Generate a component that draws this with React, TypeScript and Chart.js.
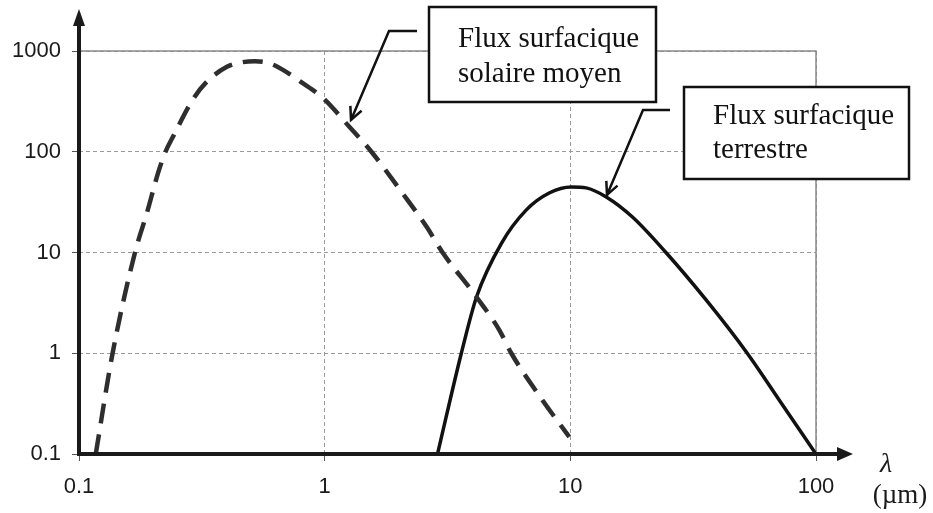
import React, { useEffect, useRef } from 'react';
import { Chart, registerables } from 'chart.js';

Chart.register(...registerables);

// wavelength (µm) and surface flux
const SOLAR_X = [0.117, 0.137, 0.169, 0.189, 0.21, 0.225, 0.241, 0.29, 0.331, 0.4, 0.45, 0.52, 0.6, 0.7, 0.8, 0.98, 1.26, 1.55, 2.07, 2.6, 3.02, 4.15, 5.14, 5.75, 7.69, 9.9];
const SOLAR_Y = [0.1, 1, 10, 24.7, 62, 100, 140, 327, 494, 696, 765, 790, 750, 617, 494, 345, 177, 100, 39, 18, 10, 3.62, 1.7, 1.0, 0.344, 0.148];

const EARTH_X = [2.88, 3.6, 4.15, 5.25, 6.62, 8.2, 10.1, 11.6, 14, 17.9, 24.5, 35.7, 52.5, 70.8, 100];
const EARTH_Y = [0.1, 1, 3.62, 12.4, 26.5, 39, 44.8, 43.8, 35.6, 22.5, 10, 3.38, 1.0, 0.344, 0.1];

const X_TICKS = [0.1, 1, 10, 100];
const Y_TICKS = [0.1, 1, 10, 100, 1000];

const SOLAR_LABEL = ['Flux surfacique', 'solaire moyen'];
const EARTH_LABEL = ['Flux surfacique', 'terrestre'];
const AXIS_SYMBOL = 'λ';
const AXIS_UNIT = '(µm)';

// where the callout arrows point, in data units
const SOLAR_TIP = { x: 1.28, y: 207 };
const EARTH_TIP = { x: 14.1, y: 37.3 };

const SERIF = '"Liberation Serif", "Times New Roman", serif';
const SANS = '"Liberation Sans", Arial, sans-serif';

const toPoints = (xs: number[], ys: number[]) => xs.map((x, i) => ({ x, y: ys[i] }));

function arrowHead(ctx: CanvasRenderingContext2D, fromX: number, fromY: number, toX: number, toY: number) {
  const a = Math.atan2(toY - fromY, toX - fromX);
  const len = 14;
  ctx.beginPath();
  ctx.moveTo(toX - len * Math.cos(a - 0.45), toY - len * Math.sin(a - 0.45));
  ctx.lineTo(toX, toY);
  ctx.lineTo(toX - len * Math.cos(a + 0.45), toY - len * Math.sin(a + 0.45));
  ctx.stroke();
}

function callout(
  ctx: CanvasRenderingContext2D,
  box: { l: number; t: number; r: number; b: number; tx: number; base: number; gap: number },
  lines: string[],
  lead: { x0: number; x1: number; y: number },
  tip: { x: number; y: number }
) {
  ctx.save();
  ctx.fillStyle = '#fff';
  ctx.fillRect(box.l, box.t, box.r - box.l, box.b - box.t);
  ctx.strokeStyle = '#111';
  ctx.lineWidth = 2.5;
  ctx.strokeRect(box.l, box.t, box.r - box.l, box.b - box.t);
  ctx.fillStyle = '#111';
  ctx.font = `29px ${SERIF}`;
  ctx.textAlign = 'left';
  ctx.textBaseline = 'alphabetic';
  lines.forEach((s, i) => ctx.fillText(s, box.tx, box.base + i * box.gap));

  ctx.lineWidth = 2.5;
  ctx.beginPath();
  ctx.moveTo(lead.x0, lead.y);
  ctx.lineTo(lead.x1, lead.y);
  ctx.lineTo(tip.x, tip.y);
  ctx.stroke();
  arrowHead(ctx, lead.x1, lead.y, tip.x, tip.y);
  ctx.restore();
}

const decor = {
  id: 'decor',
  beforeDatasetsDraw(chart: any) {
    const { ctx, chartArea: a } = chart;
    ctx.save();
    ctx.strokeStyle = '#8a8a8a';
    ctx.lineWidth = 1.5;
    ctx.beginPath();
    ctx.moveTo(a.left, a.top);
    ctx.lineTo(a.right, a.top);
    ctx.lineTo(a.right, a.bottom);
    ctx.stroke();
    ctx.restore();
  },
  afterDraw(chart: any) {
    const { ctx, chartArea: a, scales } = chart;
    const sx = scales.x;
    const sy = scales.y;

    // axes with arrows
    ctx.save();
    ctx.strokeStyle = '#1a1a1a';
    ctx.fillStyle = '#1a1a1a';
    ctx.lineWidth = 4;
    ctx.beginPath();
    ctx.moveTo(a.left, a.bottom + 2);
    ctx.lineTo(a.left, 22);
    ctx.moveTo(a.left - 2, a.bottom);
    ctx.lineTo(a.right + 26, a.bottom);
    ctx.stroke();
    ctx.beginPath();
    ctx.moveTo(a.left, 9);
    ctx.lineTo(a.left - 6, 26);
    ctx.lineTo(a.left + 6, 26);
    ctx.closePath();
    ctx.fill();
    ctx.beginPath();
    ctx.moveTo(a.right + 37, a.bottom);
    ctx.lineTo(a.right + 21, a.bottom - 7);
    ctx.lineTo(a.right + 21, a.bottom + 7);
    ctx.closePath();
    ctx.fill();

    ctx.textAlign = 'center';
    ctx.textBaseline = 'alphabetic';
    ctx.font = `italic 28px ${SERIF}`;
    ctx.fillText(AXIS_SYMBOL, a.right + 70, a.bottom + 18);
    ctx.font = `27px ${SERIF}`;
    ctx.fillText(AXIS_UNIT, a.right + 84, a.bottom + 49);
    ctx.restore();

    callout(
      ctx,
      { l: 429, t: 7, r: 656, b: 102, tx: 458, base: 47, gap: 35 },
      SOLAR_LABEL,
      { x0: 417, x1: 389, y: 31 },
      { x: sx.getPixelForValue(SOLAR_TIP.x), y: sy.getPixelForValue(SOLAR_TIP.y) }
    );
    callout(
      ctx,
      { l: 684, t: 87, r: 909, b: 179, tx: 713, base: 124, gap: 34 },
      EARTH_LABEL,
      { x0: 670, x1: 643, y: 110 },
      { x: sx.getPixelForValue(EARTH_TIP.x), y: sy.getPixelForValue(EARTH_TIP.y) }
    );
  },
};

const grid = {
  color: '#9a9a9a',
  lineWidth: 1,
  drawTicks: true,
  tickLength: 7,
  tickColor: '#555',
  tickWidth: 1,
  tickBorderDash: [],
};

export default function App() {
  const canvasRef = useRef<HTMLCanvasElement>(null);

  useEffect(() => {
    if (!canvasRef.current) return;
    const chart = new Chart(canvasRef.current, {
      type: 'line',
      data: {
        datasets: [
          {
            label: SOLAR_LABEL.join(' '),
            data: toPoints(SOLAR_X, SOLAR_Y),
            borderColor: '#2e2e2e',
            borderWidth: 4.5,
            borderDash: [20, 11],
            pointRadius: 0,
            cubicInterpolationMode: 'monotone',
            fill: false,
          },
          {
            label: EARTH_LABEL.join(' '),
            data: toPoints(EARTH_X, EARTH_Y),
            borderColor: '#111',
            borderWidth: 3.5,
            pointRadius: 0,
            cubicInterpolationMode: 'monotone',
            fill: false,
          },
        ],
      },
      options: {
        animation: false,
        responsive: true,
        maintainAspectRatio: false,
        layout: { padding: { left: 0, top: 51, right: 117, bottom: 0 } },
        plugins: {
          legend: { display: false },
          tooltip: { enabled: false },
        },
        scales: {
          x: {
            type: 'logarithmic',
            min: 0.1,
            max: 100,
            afterBuildTicks: (scale: any) => {
              scale.ticks = X_TICKS.map(value => ({ value }));
            },
            afterFit: (scale: any) => {
              scale.height = 59;
            },
            ticks: {
              callback: (v: any) => String(v),
              font: { family: SANS, size: 22 },
              color: '#1a1a1a',
              padding: 13,
              maxRotation: 0,
              autoSkip: false,
            },
            grid,
            border: { display: false, dash: [4, 3] },
          },
          y: {
            type: 'logarithmic',
            min: 0.1,
            max: 1000,
            afterBuildTicks: (scale: any) => {
              scale.ticks = Y_TICKS.map(value => ({ value }));
            },
            afterFit: (scale: any) => {
              scale.width = 79;
            },
            ticks: {
              callback: (v: any) => String(v),
              font: { family: SANS, size: 22 },
              color: '#1a1a1a',
              padding: 11,
              autoSkip: false,
            },
            grid,
            border: { display: false, dash: [4, 3] },
          },
        },
      },
      plugins: [decor],
    } as any);
    return () => chart.destroy();
  }, []);

  return (
    <div style={{ position: 'absolute', left: 0, top: 0, width: 933, height: 513, background: '#fff' }}>
      <canvas ref={canvasRef} />
    </div>
  );
}
